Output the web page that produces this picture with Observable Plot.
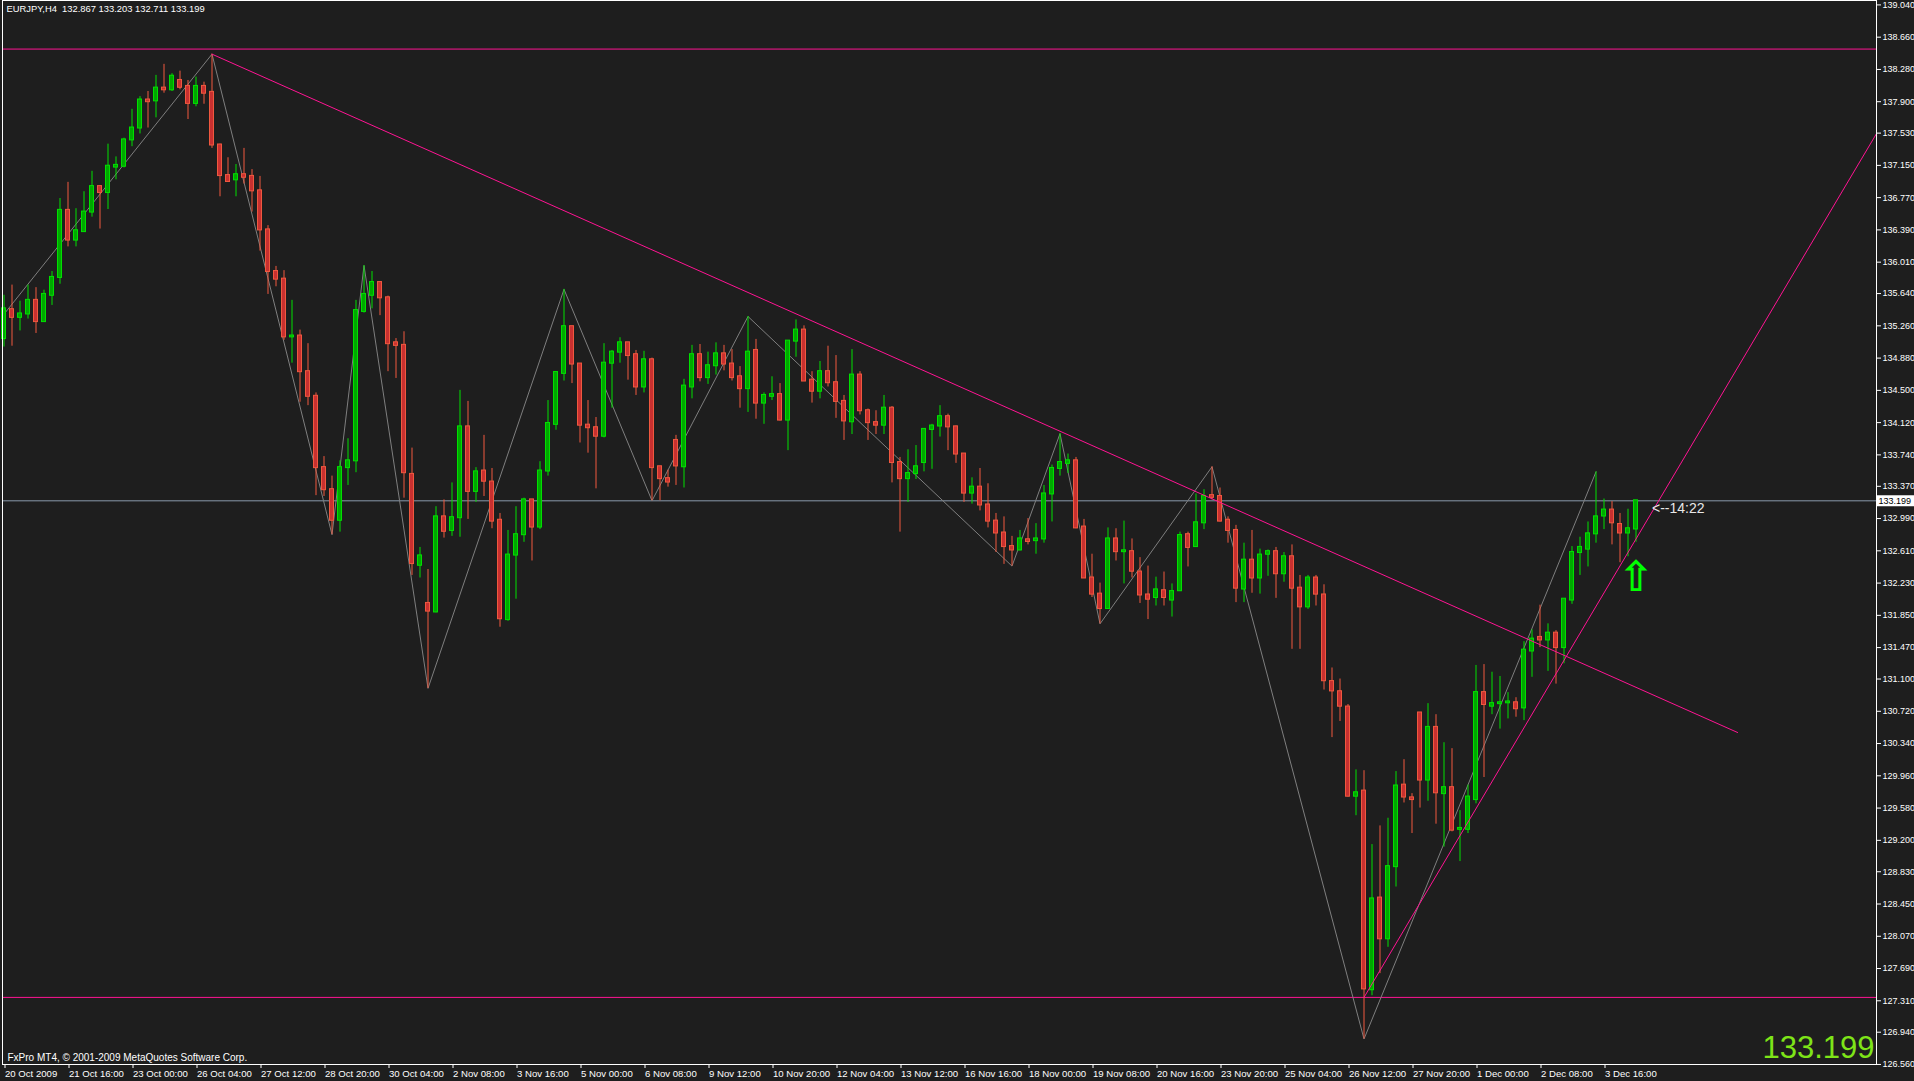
<!DOCTYPE html>
<html>
<head>
<meta charset="utf-8">
<script src="https://cdn.jsdelivr.net/npm/d3@7"></script>
<script src="https://cdn.jsdelivr.net/npm/@observablehq/plot@0.6"></script>
<style>
  html, body { margin: 0; padding: 0; background: #1e1e1e; }
  #chart svg { display: block; }
</style>
</head>
<body>
<div id="chart"></div>
<script>
// ---- Data (EURJPY, H4) ----
const symbolTitle = "EURJPY,H4  132.867 133.203 132.711 133.199";
const copyright = "FxPro MT4, \u00a9 2001-2009 MetaQuotes Software Corp.";
const timerText = "<--14:22";

const open = [
135.11,135.45,135.36,135.40,135.56,135.31,135.62,135.83,136.62,136.27,
136.37,136.60,136.90,136.83,137.13,137.14,137.45,137.59,137.92,137.91,
138.06,138.04,138.15,138.08,137.88,138.08,138.01,137.39,137.03,136.98,
137.04,137.02,136.85,136.39,135.90,135.81,135.13,135.14,134.72,134.43,
133.59,133.33,132.97,133.59,133.67,135.43,135.62,135.77,135.59,135.06,
135.03,133.51,132.44,131.99,131.89,133.01,132.85,133.00,134.07,133.31,
133.55,133.42,132.97,131.80,132.56,132.80,133.21,132.89,133.55,134.10,
134.70,135.25,134.81,134.09,134.06,133.96,134.82,134.95,135.06,134.92,
134.54,134.86,133.60,133.46,133.91,133.60,134.54,134.92,134.65,134.79,
134.93,134.81,134.66,134.52,134.97,134.35,134.43,134.45,134.15,135.08,
135.21,134.62,134.49,134.72,134.59,134.37,134.13,134.68,134.26,134.12,
134.09,134.29,133.65,133.46,133.52,133.65,134.04,134.08,134.19,134.07,
133.75,133.29,133.36,133.15,132.96,132.82,132.66,132.62,132.74,132.73,
132.75,133.28,133.58,133.64,133.67,132.89,132.29,132.10,131.93,132.75,
132.60,132.60,132.36,132.09,132.06,132.14,132.03,132.14,132.80,132.66,
132.94,133.26,133.25,132.97,132.85,132.16,132.50,132.29,132.57,132.60,
132.34,132.54,132.17,131.95,132.29,132.09,131.07,130.95,130.77,129.72,
129.78,127.44,128.52,128.04,128.89,129.85,129.70,130.70,129.91,130.53,
129.75,129.82,129.33,129.33,129.68,130.94,130.78,130.81,130.82,130.82,
130.76,131.43,131.59,131.56,131.64,131.47,132.03,132.59,132.63,132.81,
133.02,133.09,132.92,132.82,132.867];
const high = [
135.62,135.74,135.55,135.74,135.71,135.68,135.90,136.76,136.95,136.64,
136.84,137.08,136.91,137.40,137.25,137.47,137.81,137.96,138.02,138.21,
138.34,138.23,138.26,138.15,138.19,138.13,138.46,137.40,137.24,137.16,
137.35,137.10,137.02,136.44,135.96,135.91,135.56,135.21,135.05,134.47,
133.72,133.49,133.67,133.93,135.56,135.97,135.90,135.78,135.61,135.11,
135.19,133.82,132.65,132.39,133.13,133.21,133.41,134.50,134.37,133.59,
133.97,133.58,133.05,132.85,133.13,133.23,133.21,133.66,134.38,134.72,
135.69,135.25,134.81,134.38,134.18,135.05,134.97,135.12,135.06,134.97,
134.96,134.88,133.60,133.56,133.97,134.63,135.03,135.04,134.95,135.06,
135.03,134.98,134.78,135.37,135.10,134.47,134.66,134.58,135.08,135.33,
135.26,134.72,134.84,135.02,134.91,134.44,134.98,134.72,134.28,134.26,
134.44,134.31,133.71,133.80,133.85,134.05,134.10,134.32,134.22,134.08,
133.75,133.47,133.58,133.40,133.05,133.01,132.78,132.85,132.99,132.93,
133.38,133.62,133.99,133.75,133.71,132.98,132.57,132.23,132.88,132.87,
132.96,132.75,132.53,132.43,132.30,132.36,132.22,132.83,132.83,133.28,
133.33,133.60,133.35,133.01,132.91,132.70,132.85,132.63,132.62,132.65,
132.59,132.68,132.32,132.32,132.32,132.21,131.23,131.10,130.80,130.03,
130.02,129.15,129.37,129.46,130.01,130.15,129.75,130.70,130.81,130.68,
130.35,130.28,129.55,129.85,131.26,131.27,131.18,131.13,130.94,130.88,
131.54,131.68,131.97,131.75,131.67,132.04,132.66,132.77,132.95,133.54,
133.22,133.19,133.05,133.10,133.203];
const low = [
135.01,135.02,135.20,135.34,135.17,135.30,135.50,135.75,136.19,136.19,
136.36,136.54,136.40,136.63,136.98,137.12,137.37,137.52,137.59,137.71,
138.00,138.02,138.04,137.69,137.84,137.87,137.35,136.78,136.95,136.78,
136.93,136.60,136.14,135.63,135.72,135.09,134.82,134.36,134.32,133.26,
133.25,132.80,132.83,133.38,133.53,135.41,135.46,135.38,134.72,134.64,
133.23,132.32,132.29,130.99,131.88,132.76,132.78,132.77,132.98,133.18,
133.25,132.87,131.71,131.78,132.04,132.71,132.49,132.86,133.49,134.03,
134.61,134.58,133.88,133.76,133.34,133.94,134.29,134.82,134.62,134.44,
134.47,133.20,133.20,133.36,133.38,133.35,134.40,134.60,134.57,134.68,
134.73,134.61,134.29,134.24,134.16,134.10,134.38,134.14,133.79,134.89,
134.61,134.35,134.40,134.54,134.17,133.91,133.98,134.21,133.91,133.98,
133.98,133.41,132.83,133.18,133.45,133.54,133.57,133.95,133.79,133.64,
133.18,133.16,133.08,132.88,132.59,132.45,132.43,132.61,132.68,132.57,
132.70,132.95,133.49,133.52,132.87,132.29,132.06,131.75,131.92,132.49,
132.22,132.29,131.99,131.80,131.96,131.96,131.83,132.13,132.42,132.65,
132.86,133.21,132.95,132.70,132.00,132.00,132.11,132.10,132.31,132.05,
132.24,131.45,131.45,131.92,131.96,130.97,130.41,130.60,129.71,129.49,
126.86,127.37,127.63,127.94,128.65,129.64,129.28,129.58,129.66,129.39,
129.12,129.30,128.95,129.28,129.63,129.94,130.68,130.51,130.63,130.65,
130.61,131.12,131.47,131.19,131.04,131.28,131.98,132.32,132.42,132.70,
132.86,132.68,132.47,132.54,132.711];
const close = [
135.46,135.36,135.40,135.56,135.31,135.63,135.83,136.62,136.27,136.38,
136.60,136.90,136.83,137.14,137.15,137.45,137.59,137.92,137.90,138.06,
138.04,138.20,138.07,137.88,138.08,138.00,137.39,137.03,136.96,137.04,
137.01,136.85,136.39,135.90,135.81,135.13,135.14,134.72,134.43,133.59,
133.33,132.97,133.59,133.67,135.44,135.63,135.77,135.59,135.05,135.03,
133.53,132.46,132.55,131.90,133.01,132.84,133.00,134.07,133.31,133.54,
133.43,132.96,131.81,132.56,132.80,133.21,132.89,133.55,134.11,134.71,
135.25,134.81,134.09,134.06,133.96,134.82,134.95,135.06,134.91,134.54,
134.86,133.59,133.46,133.42,133.61,134.55,134.92,134.65,134.79,134.93,
134.81,134.65,134.52,134.95,134.35,134.44,134.45,134.15,135.08,135.21,
134.61,134.49,134.72,134.59,134.37,134.14,134.68,134.26,134.12,134.09,
134.29,133.65,133.46,133.52,133.60,134.04,134.08,134.19,134.07,133.75,
133.29,133.36,133.15,132.96,132.82,132.66,132.62,132.75,132.72,132.75,
133.28,133.58,133.65,133.67,132.88,132.29,132.10,131.93,132.75,132.60,
132.61,132.37,132.09,132.04,132.15,132.06,132.13,132.79,132.65,132.94,
133.25,133.24,132.96,132.85,132.17,132.50,132.29,132.56,132.60,132.34,
132.54,132.17,131.95,132.29,132.10,131.08,130.96,130.78,129.72,129.76,
127.45,128.51,128.04,128.89,129.84,129.71,129.68,129.91,130.53,129.76,
129.82,129.32,129.34,129.71,130.94,130.80,130.81,130.82,130.83,130.75,
131.44,131.57,131.56,131.64,131.47,132.04,132.59,132.65,132.81,133.01,
133.09,132.94,132.82,132.87,133.199];

// Time axis labels (one every 8 bars)
const timeLabels = ["20 Oct 2009","21 Oct 16:00","23 Oct 00:00","26 Oct 04:00","27 Oct 12:00",
  "28 Oct 20:00","30 Oct 04:00","2 Nov 08:00","3 Nov 16:00","5 Nov 00:00","6 Nov 08:00",
  "9 Nov 12:00","10 Nov 20:00","12 Nov 04:00","13 Nov 12:00","16 Nov 16:00","18 Nov 00:00",
  "19 Nov 08:00","20 Nov 16:00","23 Nov 20:00","25 Nov 04:00","26 Nov 12:00","27 Nov 20:00",
  "1 Dec 00:00","2 Dec 08:00","3 Dec 16:00"];
const barsPerLabel = 8;

// Price axis labels
const priceTicks = [139.040,138.660,138.280,137.900,137.530,137.150,136.770,136.390,136.010,
  135.640,135.260,134.880,134.500,134.120,133.740,133.370,132.990,132.610,132.230,131.850,
  131.470,131.100,130.720,130.340,129.960,129.580,129.200,128.830,128.450,128.070,127.690,
  127.310,126.940,126.560];

// Objects on the chart
const lastPrice = 133.199;
const topLevel = 138.52;
const bottomLevel = 127.35;
const downTrendBar = [26, 216.7];
const downTrendPrice = [138.46, 130.47];
const upTrendBar = [170, 234.1];
const upTrendPrice = [127.35, 137.53];
const zigzagBar =   [-1, 26, 41, 45, 53, 70, 81, 93, 126, 132, 137, 151, 170, 199];
const zigzagPrice = [135.28, 138.46, 132.80, 135.97, 130.99, 135.69, 133.20, 135.37, 132.43, 133.99, 131.75, 133.60, 126.86, 133.54];
const arrowBar = 204;
const arrowPrice = 132.30;

// ---- Build tables ----
const candles = open.map((o, i) => ({i, open: o, high: high[i], low: low[i], close: close[i], up: close[i] >= o}));
const zigzag = zigzagBar.map((b, k) => ({i: b, p: zigzagPrice[k]}));
const downTrend = downTrendBar.map((b, k) => ({i: b, p: downTrendPrice[k]}));
const upTrend = upTrendBar.map((b, k) => ({i: b, p: upTrendPrice[k]}));
const xTicks = timeLabels.map((_, k) => k * barsPerLabel);

// ---- Style ----
const BG = "#1e1e1e";
const UP_LINE = "#00e000", UP_FILL = "#00a800";
const DN_LINE = "#f0583f", DN_FILL = "#c83030";
const PINK = "#ff1493";
const font = "'Liberation Sans', Arial, sans-serif";

const W = 1914, H = 1081;
const mL = 2, mR = 38, mT = 0, mB = 17;
const barPx = 8, firstBarPx = 3.5;
const xDomain = [(mL - firstBarPx) / barPx, (W - mR - firstBarPx) / barPx];
const xFull = (W - firstBarPx) / barPx;
const pxPerYen = 84.9;
const yDomain = [139.092 - (H - mB - mT) / pxPerYen, 139.092];

const chart = Plot.plot({
  width: W, height: H,
  marginLeft: mL, marginRight: mR, marginTop: mT, marginBottom: mB,
  style: {background: BG, color: "#ffffff", fontFamily: font, fontSize: "9px"},
  x: {domain: xDomain},
  y: {domain: yDomain},
  marks: [
    // horizontal levels
    Plot.ruleY([topLevel], {stroke: PINK, strokeWidth: 1}),
    Plot.ruleY([bottomLevel], {stroke: PINK, strokeWidth: 1}),
    Plot.ruleY([lastPrice], {stroke: "#8a9aab", strokeWidth: 1}),
    // zigzag
    Plot.line(zigzag, {x: "i", y: "p", stroke: "#7f7f7f", strokeWidth: 1, clip: true}),
    // candles
    Plot.ruleX(candles, {x: "i", y1: "low", y2: "high", stroke: d => d.up ? UP_LINE : DN_LINE, strokeWidth: 1}),
    Plot.rect(candles, {
      x1: d => d.i - 0.25, x2: d => d.i + 0.25, y1: "open", y2: "close",
      fill: d => d.up ? UP_FILL : DN_FILL, stroke: d => d.up ? UP_LINE : DN_LINE, strokeWidth: 1,
      insetTop: -0.5, insetBottom: -0.5
    }),
    // trend lines
    Plot.line(downTrend, {x: "i", y: "p", stroke: PINK, strokeWidth: 1, clip: true}),
    Plot.line(upTrend, {x: "i", y: "p", stroke: PINK, strokeWidth: 1, clip: true}),
    // arrow and timer
    Plot.text([arrowPrice], {x: arrowBar, y: d => d, text: () => "\u21e7", fill: "#00ff00", fontSize: 42, fontFamily: "DejaVu Sans", fontWeight: "bold"}),
    Plot.text([lastPrice], {x: candles.length - 1, y: d => d, text: () => timerText, textAnchor: "start", dx: 16, dy: 8, fill: "#e8e8e8", fontSize: 14}),
    // frame
    Plot.frame({stroke: "#ffffff", strokeWidth: 1}),
    // axes
    Plot.axisY({anchor: "right", ticks: priceTicks, tickFormat: d => d.toFixed(3), tickSize: 4, tickPadding: 2, fontSize: 9, label: null}),
    Plot.axisX({anchor: "bottom", ticks: xTicks, tickFormat: d => timeLabels[d / barsPerLabel], textAnchor: "start", dx: 1, tickSize: 4, tickPadding: 2, fontSize: 9.6, label: null}),
    // last price tag on the axis
    Plot.ruleY([lastPrice], {x1: xDomain[1], x2: xFull, stroke: "#ffffff", strokeWidth: 11}),
    Plot.text([lastPrice], {x: xDomain[1], y: d => d, text: d => d.toFixed(3), textAnchor: "start", dx: 2, fill: "#000000", fontSize: 9}),
    // texts
    Plot.text([symbolTitle], {frameAnchor: "top-left", dx: 4, dy: 5, fill: "#ffffff", fontSize: 9.4, textAnchor: "start", lineAnchor: "top"}),
    Plot.text([copyright], {frameAnchor: "bottom-left", dx: 5, dy: -4, fill: "#ffffff", fontSize: 10, textAnchor: "start", lineAnchor: "bottom"}),
    Plot.text([lastPrice], {frameAnchor: "bottom-right", text: d => d.toFixed(3), dx: -2, dy: -7, fill: "#7ee418", fontSize: 31, textAnchor: "end", lineAnchor: "bottom"})
  ]
});
document.getElementById("chart").appendChild(chart);
</script>
</body>
</html>
